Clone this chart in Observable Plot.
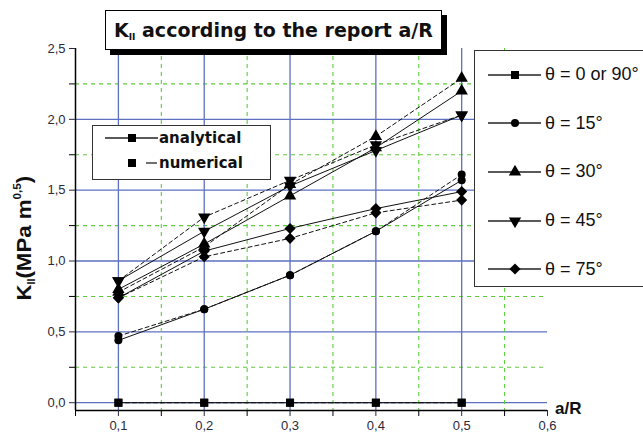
<!DOCTYPE html>
<html><head><meta charset="utf-8">
<script src="https://cdn.jsdelivr.net/npm/d3@7"></script>
<script src="https://cdn.jsdelivr.net/npm/@observablehq/plot@0.6"></script>
<style>
body{margin:0;background:#fff;font-family:"Liberation Sans",Arial,sans-serif;}
#wrap{position:relative;width:643px;height:441px;overflow:hidden;}
#chart{position:absolute;left:0;top:0;}
.title{position:absolute;left:105px;top:10px;width:337px;height:40px;border:1.5px solid #000;background:#fff;box-shadow:5px 5px 0 #000;font-family:"DejaVu Sans",sans-serif;font-weight:bold;font-size:19px;color:#111;line-height:38px;padding-left:8px;box-sizing:border-box;white-space:nowrap;}
.title sub{font-size:9px;vertical-align:-3px;}
.ylab{position:absolute;left:0;top:0;font-family:"Liberation Sans",Arial,sans-serif;font-weight:bold;font-size:21px;color:#111;white-space:nowrap;line-height:24px;transform-origin:0 0;}
.ylab sub{font-size:10px;vertical-align:-4px;}
.ylab sup{font-size:11px;vertical-align:10px;}
.xlab{position:absolute;left:555px;top:399px;font-weight:bold;font-size:17px;color:#111;}
.leg1{position:absolute;left:92px;top:125px;width:179px;height:55px;border:1.2px solid #333;background:#fff;box-sizing:border-box;}
.leg2{position:absolute;left:474px;top:50px;width:200px;height:237px;border:1.5px solid #333;background:#fff;box-sizing:border-box;}
.row{position:absolute;display:flex;align-items:center;white-space:nowrap;}
.leg1 .row{font-family:"DejaVu Sans",sans-serif;font-weight:bold;font-size:15px;color:#111;}
.leg2 .row{font-size:18px;color:#111;}
</style></head>
<body>
<div id="wrap">
<div id="chart"></div>
</div>
<script>
const aR = [0.1, 0.2, 0.3, 0.4, 0.5];
const seriesNames = ["θ = 0 or 90°", "θ = 15°", "θ = 30°", "θ = 45°", "θ = 75°"];
const analytical0 = [0, 0, 0, 0, 0];
const numerical0  = [0, 0, 0, 0, 0];
const analytical15 = [0.44, 0.66, 0.90, 1.21, 1.57];
const numerical15  = [0.47, 0.66, 0.90, 1.21, 1.61];
const analytical30 = [0.80, 1.12, 1.46, 1.80, 2.20];
const numerical30  = [0.78, 1.10, 1.54, 1.88, 2.29];
const analytical45 = [0.86, 1.21, 1.53, 1.78, 2.03];
const numerical45  = [0.86, 1.31, 1.57, 1.82, 2.03];
const analytical75 = [0.74, 1.07, 1.23, 1.37, 1.49];
const numerical75  = [0.74, 1.03, 1.16, 1.34, 1.43];
const xMajor = [0.1, 0.2, 0.3, 0.4, 0.5, 0.6];
const xMinor = [0.05, 0.15, 0.25, 0.35, 0.45, 0.55];
const yMajor = [0, 0.5, 1.0, 1.5, 2.0, 2.5];
const yMinor = [0.25, 0.75, 1.25, 1.75, 2.25];

const analytical = [analytical0, analytical15, analytical30, analytical45, analytical75];
const numerical = [numerical0, numerical15, numerical30, numerical45, numerical75];
const symbols = ["square", "circle", "triangle", "triangle", "diamond2"];
const d3symbols = [d3.symbolSquare, d3.symbolCircle, d3.symbolTriangle, d3.symbolTriangle, d3.symbolDiamond2];
const rotations = [0, 0, 0, 180, 0];
const sizes = [4.5, 4, 4.6, 4.6, 5];

const rows = [];
seriesNames.forEach((s, i) => {
  aR.forEach((x, j) => {
    rows.push({x, y: analytical[i][j], s, i, kind: "analytical"});
    rows.push({x, y: numerical[i][j], s, i, kind: "numerical"});
  });
});
const fmt = d => d.toFixed(1).replace(".", ",");
const blue = "#5d70c2", green = "#5ccc3a";

const marks = [
  Plot.ruleY(yMajor.slice(0, 5), {stroke: blue, strokeWidth: 1.3}),
  Plot.ruleY(yMinor, {stroke: green, strokeWidth: 1.1, strokeDasharray: "4,4"}),
  Plot.ruleX(xMajor.slice(0, 5), {stroke: blue, strokeWidth: 1.3}),
  Plot.ruleX(xMinor.slice(1), {stroke: green, strokeWidth: 1.1, strokeDasharray: "4,4"}),
  Plot.line(rows.filter(d => d.kind === "analytical"), {x: "x", y: "y", z: "s", stroke: "#111", strokeWidth: 1}),
  Plot.line(rows.filter(d => d.kind === "numerical"), {x: "x", y: "y", z: "s", stroke: "#111", strokeWidth: 1, strokeDasharray: "4,3"}),
];
seriesNames.forEach((s, i) => {
  marks.push(Plot.dot(rows.filter(d => d.i === i), {x: "x", y: "y", symbol: () => symbols[i], rotate: rotations[i], r: sizes[i], fill: "#000", stroke: "none"}));
});
marks.push(
  Plot.ruleY([-0.055], {stroke: "#000", strokeWidth: 1.5}),
  Plot.ruleX([0.05], {stroke: "#000", strokeWidth: 1.5}),
  Plot.axisX(xMajor, {tickFormat: fmt, tickSize: 6, tickPadding: 4, label: null, fontSize: 13, color: "#2a2a3a"}),
  Plot.axisX(xMinor, {tickFormat: () => "", tickSize: 6, label: null, color: "#000"}),
  Plot.axisY(yMajor, {tickFormat: fmt, tickSize: 6, tickPadding: 4, label: null, fontSize: 13, color: "#2a2a3a"}),
  Plot.axisY(yMinor, {tickFormat: () => "", tickSize: 6, label: null, color: "#000"})
);

const chart = Plot.plot({
  width: 643, height: 441,
  marginLeft: 75, marginRight: 96, marginTop: 48, marginBottom: 31,
  x: {domain: [0.05, 0.6]},
  y: {domain: [-0.055, 2.5]},
  style: {fontFamily: "Liberation Sans, Arial, sans-serif", background: "transparent", overflow: "visible"},
  marks
});
const wrap = document.getElementById("wrap");
document.getElementById("chart").append(chart);

function swatch(symIndex, withLine, dashOnly, gap) {
  const w = 53, h = 14;
  let svg = `<svg width="${w}" height="${h}" style="margin-right:${gap}px">`;
  if (withLine) svg += `<line x1="0" y1="7" x2="${w}" y2="7" stroke="#222" stroke-width="1.3"/>`;
  if (dashOnly) svg += `<line x1="41" y1="7" x2="${w - 1}" y2="7" stroke="#222" stroke-width="1.3"/>`;
  const sym = d3.symbol().type(d3symbols[symIndex]).size(Math.PI * sizes[symIndex] ** 2)();
  svg += `<path d="${sym}" transform="translate(27,7) rotate(${rotations[symIndex]})" fill="#000"/>`;
  return svg + "</svg>";
}

const title = document.createElement("div");
title.className = "title";
title.innerHTML = "K<sub>II</sub> according to the report a/R";
wrap.append(title);

const ylab = document.createElement("div");
ylab.className = "ylab";
ylab.innerHTML = "K<sub>II</sub>(MPa m<sup>0,5</sup>)";
wrap.append(ylab);
{
  const w = ylab.offsetWidth, h = ylab.offsetHeight;
  const target = 125, sx = target / w;
  // centre of the rotated label at (24, 238)
  ylab.style.transform = `translate(${24 - h / 2}px, ${238 + target / 2}px) rotate(-90deg) scale(${sx}, 1)`;
}

const xlab = document.createElement("div");
xlab.className = "xlab";
xlab.textContent = "a/R";
wrap.append(xlab);

const leg1 = document.createElement("div");
leg1.className = "leg1";
leg1.innerHTML =
  `<div class="row" style="left:12px;top:3px">${swatch(0, true, false, 1)}analytical</div>` +
  `<div class="row" style="left:12px;top:28px">${swatch(0, false, true, 1)}numerical</div>`;
wrap.append(leg1);

const leg2 = document.createElement("div");
leg2.className = "leg2";
leg2.innerHTML = seriesNames.map((s, i) =>
  `<div class="row" style="left:13px;top:${13 + i * 48.7}px">${swatch(i, true, false, 4)}${s}</div>`).join("");
wrap.append(leg2);
</script>
</body></html>
